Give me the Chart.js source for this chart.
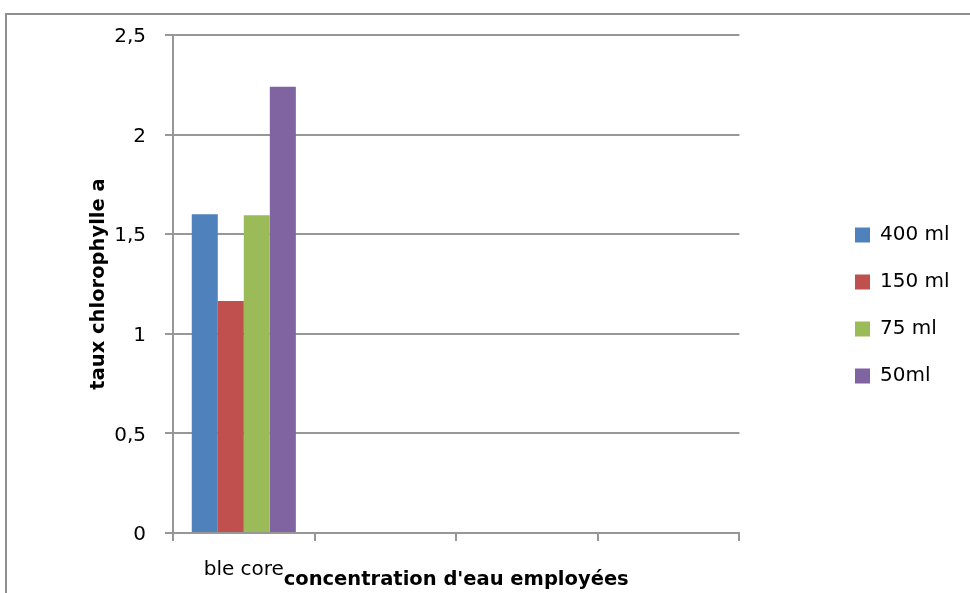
<!DOCTYPE html>
<html>
    <head>
        <title></title>
        <script src="https://cdn.jsdelivr.net/npm/chart.js"></script>
        <style>
          body { margin: 0; background: #fff; overflow: hidden; }
          #frame { position: absolute; left: 5px; top: 13px; width: 1000px; height: 1000px;
                   border-left: 2px solid #8f8f8f; border-top: 2px solid #8f8f8f; }
          #myChart { position: absolute; left: 0; top: 0; }
        </style>
    </head>
    <body>
        <div id="frame"></div>
        <canvas id="myChart" width="970" height="593"></canvas>

        <script>
          const categories = ['ble core', '', '', ''];
          const seriesNames = ['400 ml', '150 ml', '75 ml', '50ml'];
          const v400 = [1.6, null, null, null];
          const v150 = [1.165, null, null, null];
          const v75 = [1.595, null, null, null];
          const v50 = [2.24, null, null, null];
          const colors = ['#4F81BD', '#C0504D', '#9BBB59', '#8064A2'];
          const yTicks = [0, 0.5, 1, 1.5, 2, 2.5];

          const gridColor = '#979797';
          const font = "'DejaVu Sans'";

          // move the legend out to where excel put it
          const legendPlace = {
            id: 'legendPlace',
            afterLayout(chart) {
              const l = chart.legend;
              const w = l.width, h = l.height;
              l.left = 828; l.right = l.left + w;
              l.top = 198; l.bottom = l.top + h;
            }
          };

          chartIt();

          function chartIt(){
            const ctx = document.getElementById('myChart');
            const values = [v400, v150, v75, v50];
            new Chart(ctx, {
              type: 'bar',
              data: {
                labels: categories,
                datasets: seriesNames.map((name, i) => ({
                  label: name,
                  data: values[i],
                  backgroundColor: colors[i],
                  borderWidth: 0
                }))
              },
              plugins: [legendPlace],
              options: {
                responsive: false,
                animation: false,
                layout: { padding: { top: 35, right: 99, bottom: 0, left: 0 } },
                datasets: { bar: { categoryPercentage: 0.735, barPercentage: 1 } },
                plugins: {
                  tooltip: { enabled: false },
                  legend: {
                    position: 'right',
                    align: 'start',
                    labels: {
                      boxWidth: 15, boxHeight: 15, padding: 27,
                      color: '#000',
                      font: { family: font, size: 20 }
                    }
                  }
                },
                scales: {
                  x: {
                    afterFit: s => { s.height = 60; },
                    grid: { display: true, drawOnChartArea: false, drawTicks: true, tickLength: 8,
                            color: gridColor, lineWidth: 2 },
                    border: { display: true, color: gridColor, width: 2 },
                    ticks: { color: '#000', padding: 17, maxRotation: 0, autoSkip: false,
                             font: { family: font, size: 20 } },
                    title: {
                      display: true,
                      text: "concentration d'eau employées",
                      color: '#000',
                      padding: { top: 0, bottom: 1 },
                      font: { family: font, size: 19.5, weight: 'bold' }
                    }
                  },
                  y: {
                    min: 0,
                    max: 2.5,
                    afterFit: s => { s.width = 173; },
                    afterBuildTicks: s => { s.ticks = yTicks.map(v => ({ value: v })); },
                    grid: { color: gridColor, lineWidth: 2, tickLength: 8 },
                    border: { display: true, color: gridColor, width: 2 },
                    ticks: {
                      color: '#000', padding: 19, labelOffset: 2,
                      font: { family: font, size: 20 },
                      callback: v => String(v).replace('.', ',')
                    },
                    title: {
                      display: true,
                      text: 'taux chlorophylle a',
                      color: '#000',
                      padding: { top: 87, bottom: 0 },
                      font: { family: font, size: 19.5, weight: 'bold' }
                    }
                  }
                }
              }
            });
          };
        </script>
    </body>
</html>
